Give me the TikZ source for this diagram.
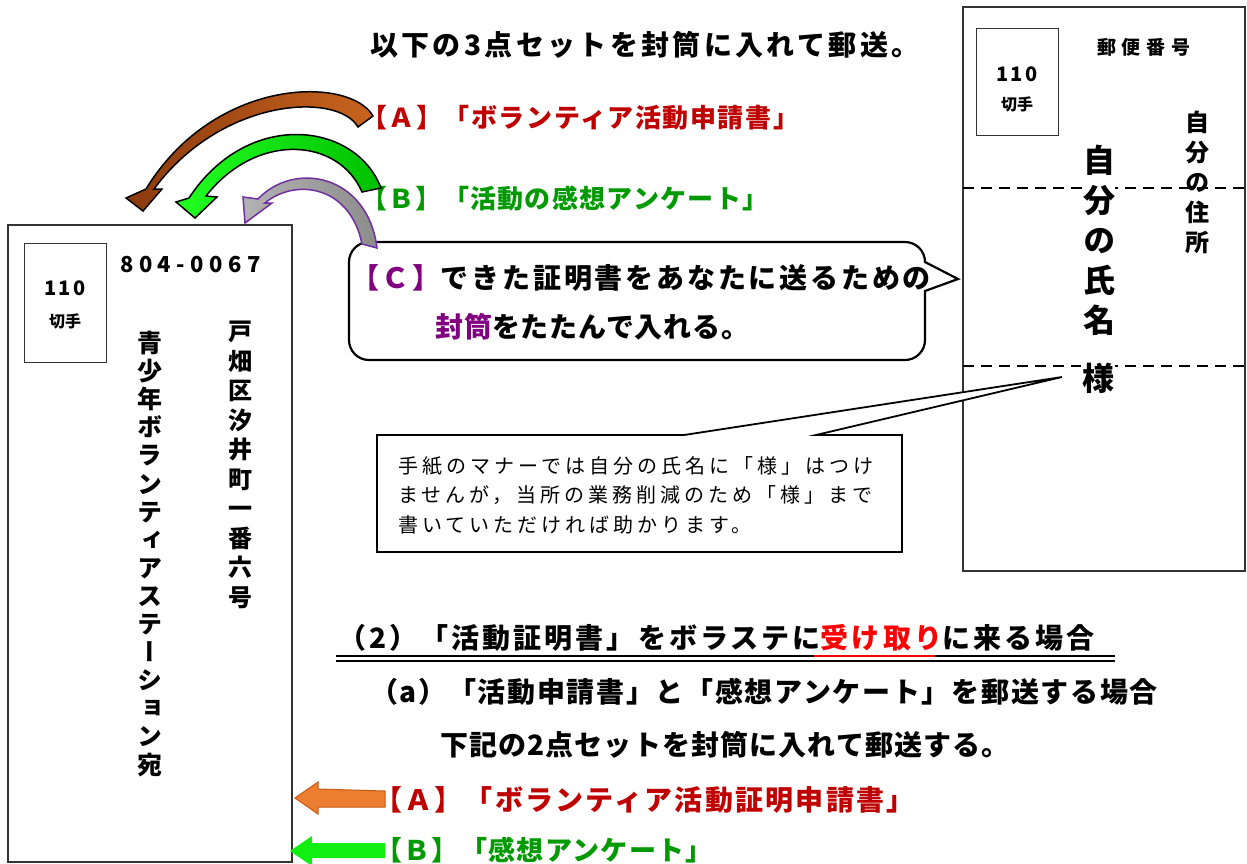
\documentclass[tikz,border=0pt]{standalone}
\usepackage{fontspec}
\setmainfont{Noto Sans CJK JP}
\newfontfamily\vjp[RawFeature=+vert]{Noto Sans CJK JP}
\newcommand{\setfs}[2]{\fontsize{#1}{#2}\selectfont}
\definecolor{cred}{HTML}{C00000}
\definecolor{cgreen}{HTML}{009A00}
\definecolor{cpurple}{HTML}{800080}
\definecolor{brownA}{HTML}{8B3A0E}
\definecolor{brownB}{HTML}{C8641E}
\definecolor{grnA}{HTML}{22FF22}
\definecolor{grnB}{HTML}{00C000}
\definecolor{arrpurple}{HTML}{7030A0}
\definecolor{orangeF}{HTML}{ED7D31}
\definecolor{orangeD}{HTML}{C55A11}
\definecolor{brightgreen}{HTML}{11EE11}
\begin{document}
\begin{tikzpicture}[x=1pt,y=-1pt,
  env/.style={draw=black!80, line width=1.3pt},
  stampbox/.style={draw=black!80, line width=1pt},
  vtext/.style={anchor=north, align=center, inner sep=0pt},
  htext/.style={anchor=west, inner sep=0pt},
  ctext/.style={inner sep=0pt},
  callout/.style={draw=black, line width=2pt, fill=white},
]
\useasboundingbox (0,0) rectangle (1247,863);
\fill[white] (0,0) rectangle (1247,863);

% ---------- right envelope ----------
\draw[env] (963,7) rectangle (1245,571);
\draw[stampbox] (976,28) rectangle (1058,135);
\node[ctext, font=\setfs{20}{24}\bfseries\addfontfeature{LetterSpace=12}] (r110) at (1017,74) {110};
\node[ctext, font=\setfs{16}{20}\bfseries] (rkitte) at (1017,104) {切手};
\node[htext, font=\setfs{19}{22}\bfseries\addfontfeature{LetterSpace=30}] (yubin) at (1097,47) {郵便番号};
\draw[black, line width=1.5pt, dash pattern=on 11pt off 7pt] (963,188) -- (1245,188);
\draw[black, line width=1.5pt, dash pattern=on 11pt off 7pt] (963,366) -- (1245,366);
\node[vtext, font=\setfs{24}{30}\vjp\bfseries] (jusho) at (1197,111) {自\\分\\の\\住\\所};
\node[vtext, font=\setfs{32}{40}\vjp\bfseries, fill=white] (shimei) at (1099,145) {自\\分\\の\\氏\\名};
\node[ctext, font=\setfs{32}{36}\bfseries, fill=white, inner sep=1pt] (sama) at (1098,378) {様};

% ---------- note box with callout ----------
\coordinate (notetip) at (1062,377);
\draw[callout, line width=1.8pt] (377,435) -- (684,435) -- (notetip) -- (816,435) -- (902,435) -- (902,552) -- (377,552) -- cycle;
\node[htext, font=\setfs{20}{24}\addfontfeature{LetterSpace=20}] (n1) at (398,466) {手紙のマナーでは自分の氏名に「様」はつけ};
\node[htext, font=\setfs{20}{24}\addfontfeature{LetterSpace=20}] (n2) at (398,495) {ませんが，当所の業務削減のため「様」まで};
\node[htext, font=\setfs{20}{24}\addfontfeature{LetterSpace=20}] (n3) at (398,525) {書いていただければ助かります。};

% ---------- speech bubble ----------
\coordinate (bubtip) at (958,279);
\draw[line width=2.2pt, fill=white, rounded corners=20pt] (349,301) -- (349,242) -- (925,242) [sharp corners] -- (925,262) -- (bubtip) -- (925,291) [rounded corners=20pt] -- (925,360) -- (349,360) -- cycle;
\node[htext, font=\setfs{28}{32}\bfseries\addfontfeature{LetterSpace=10}] (c1) at (351,278) {{\color{cpurple}【Ｃ】}できた証明書をあなたに送るための};
\node[htext, font=\setfs{28}{32}\bfseries\addfontfeature{LetterSpace=3}] (c2) at (435,327) {{\color{cpurple}封筒}をたたんで入れる。};

% ---------- top texts ----------
\node[htext, font=\setfs{28}{32}\bfseries\addfontfeature{LetterSpace=12}] (title) at (370,45) {以下の3点セットを封筒に入れて郵送。};
\node[htext, text=cred, font=\setfs{26}{30}\bfseries\addfontfeature{LetterSpace=6}] (ta) at (361,118) {【Ａ】「ボランティア活動申請書」};
\node[htext, text=cgreen, font=\setfs{26}{30}\bfseries\addfontfeature{LetterSpace=5}] (tb) at (361,199) {【Ｂ】「活動の感想アンケート」};

% ---------- left envelope ----------
\draw[env] (8,225) rectangle (292,862);
\draw[stampbox] (24,243) rectangle (106,362);
\node[ctext, font=\setfs{20}{24}\bfseries\addfontfeature{LetterSpace=12}] (l110) at (65,288) {110};
\node[ctext, font=\setfs{16}{20}\bfseries] (lkitte) at (65,321) {切手};
\node[htext, font=\setfs{22}{26}\bfseries\addfontfeature{LetterSpace=25}] (zip) at (120,265) {804-0067};
\node[vtext, font=\setfs{25}{28.1}\vjp\bfseries] (addr1) at (150,331) {青\\少\\年\\ボ\\ラ\\ン\\テ\\ィ\\ア\\ス\\テ\\ー\\シ\\ョ\\ン\\宛};
\node[vtext, font=\setfs{24}{29.5}\vjp\bfseries] (addr2) at (240,321) {戸\\畑\\区\\汐\\井\\町\\一\\番\\六\\号};

% ---------- curved arrows ----------
\path[draw=black, line width=1.5pt, left color=brownA, right color=brownB]
  (373,116) .. controls (350,76) and (215,76) .. (146,189)
  -- (126,198) -- (143,211) -- (162,189) -- (154,189)
  .. controls (222,97) and (338,92) .. (358,127) -- cycle;
\path[draw=black, line width=1.5pt, left color=grnA, right color=grnB]
  (381,188) .. controls (356,122) and (248,108) .. (189,198)
  -- (176,202) -- (195,218) -- (217,197) -- (206,196)
  .. controls (256,132) and (338,137) .. (362,192) -- cycle;
\path[draw=arrpurple, line width=1.5pt, left color=black!30, right color=black!45]
  (377,248) .. controls (368,175) and (295,160) .. (258,199)
  -- (243,197) -- (245,223) -- (272,203) -- (265,203)
  .. controls (295,178) and (350,185) .. (362,244) -- cycle;

% ---------- section (2) ----------
\node[htext, font=\setfs{28}{32}\bfseries\addfontfeature{LetterSpace=11}] (sec) at (338,638) {（2）「活動証明書」をボラステに{\color{red}受け取り}に来る場合};
\draw[black, line width=1.3pt] (336,656) -- (1115,656);
\draw[black, line width=1.3pt] (336,661) -- (1115,661);
\draw[red, line width=2pt] (814,656) -- (935,656);
\node[htext, font=\setfs{28}{32}\bfseries\addfontfeature{LetterSpace=6}] (suba) at (370,692) {（a）「活動申請書」と「感想アンケート」を郵送する場合};
\node[htext, font=\setfs{28}{32}\bfseries\addfontfeature{LetterSpace=4}] (kaki) at (440,745) {下記の2点セットを封筒に入れて郵送する。};

% ---------- bottom arrows and items ----------
\node[htext, text=cred, font=\setfs{28}{32}\bfseries\addfontfeature{LetterSpace=8}] (ia) at (374,800) {【Ａ】「ボランティア活動証明申請書」};
\node[htext, text=cgreen, font=\setfs{27}{32}\bfseries\addfontfeature{LetterSpace=5}] (ib) at (375,850) {【Ｂ】「感想アンケート」};
\path[draw=orangeD, line width=1pt, fill=orangeF]
  (ia.west) ++(11,-9) -- (318,789) -- (318,782) -- (295,798) -- (318,814) -- (318,807) -- (385,807) -- cycle;
\path[fill=brightgreen]
  (ib.west) ++(10,-7) -- (312,843) -- (312,836) -- (290,851) -- (312,866) -- (312,858) -- (385,858) -- cycle;
\end{tikzpicture}
\end{document}
